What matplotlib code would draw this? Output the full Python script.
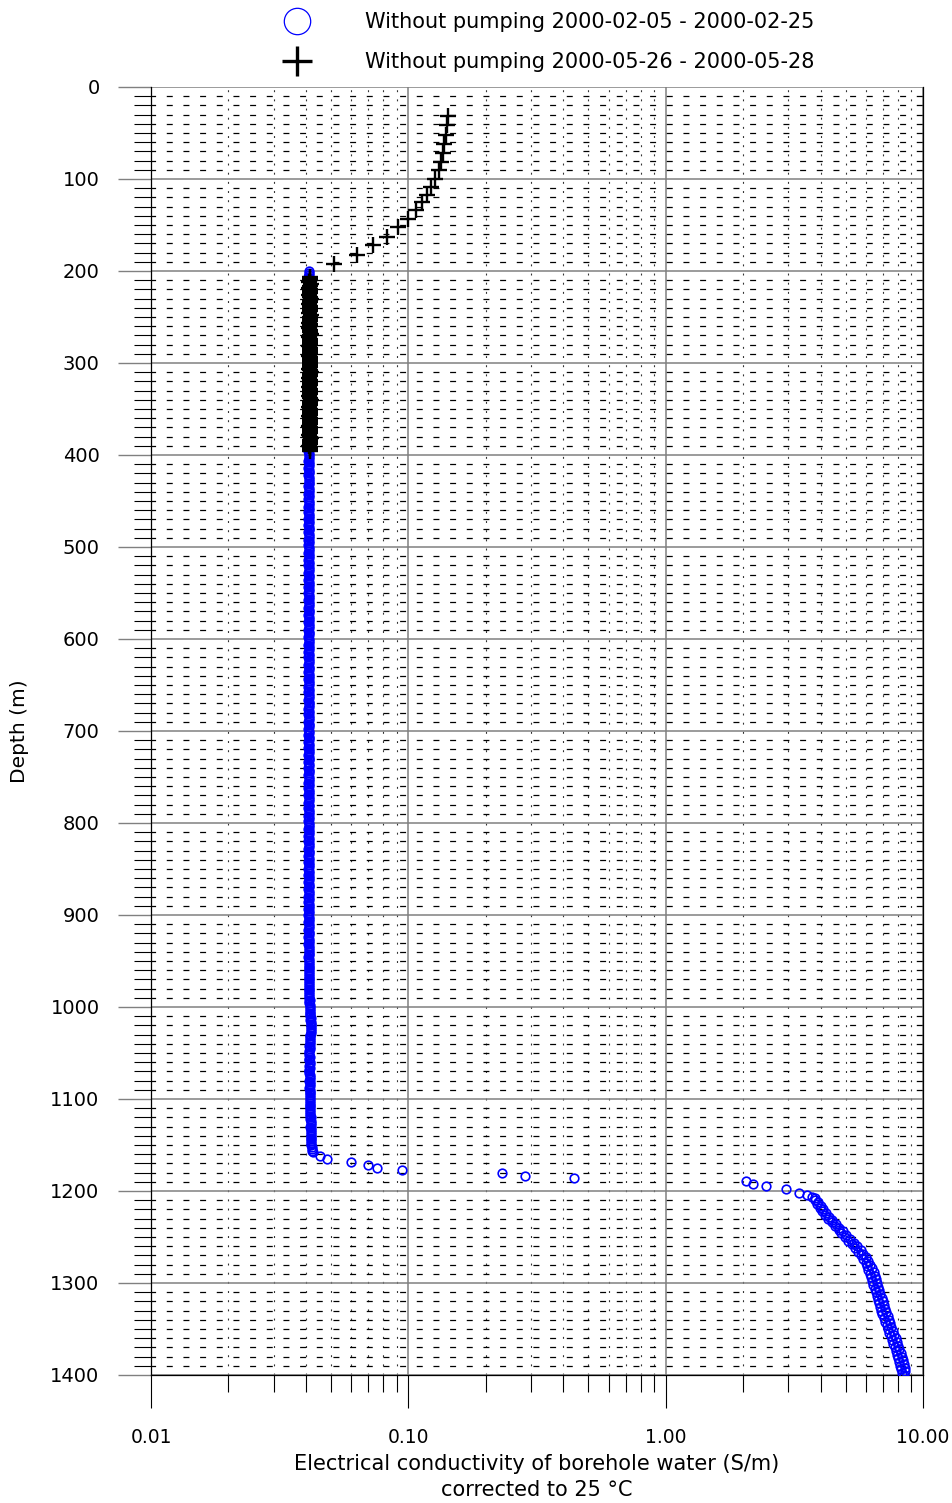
import numpy as np
import matplotlib
matplotlib.use("Agg")
import matplotlib.pyplot as plt
from matplotlib.ticker import LogLocator, MultipleLocator, FixedLocator, FuncFormatter, NullFormatter
from matplotlib.lines import Line2D

plt.rcParams['font.family'] = ['DejaVu Sans']
plt.rcParams['lines.scale_dashes'] = False

# ---- data -------------------------------------------------------------
# 2000-05-26 - 2000-05-28 (crosses), upper part read point by point
cross_top_depth = [32, 41, 52, 62, 72, 81, 90, 100, 109, 117, 125, 134,
                   143, 152, 163, 172, 183, 192]
cross_top_cond = [0.143, 0.141, 0.140, 0.138, 0.136, 0.134, 0.131, 0.127,
                  0.123, 0.118, 0.113, 0.107, 0.100, 0.0915, 0.0824,
                  0.0727, 0.0634, 0.0516]

# crosses, dense part 206-396 m every 2 m (units 1e-4 S/m)
cross_col_depth = np.arange(206, 398, 2)
cross_col_cond = [
    416, 413, 415, 412, 417, 414, 411, 415, 413, 416, 412, 414, 418, 413, 415, 411, 414, 416, 413, 415, 412, 417, 414, 413,
    415, 412, 416, 414, 411, 415, 413, 417, 414, 412, 415, 413, 416, 414, 411, 415, 413, 414, 416, 412, 415, 414, 413, 416,
    413, 415, 412, 414, 417, 413, 415, 411, 414, 416, 413, 415, 412, 414, 416, 413, 415, 412, 414, 417, 413, 415, 414, 412,
    414, 416, 413, 415, 412, 414, 416, 413, 415, 411, 414, 416, 413, 415, 412, 414, 417, 413, 415, 414, 412, 415, 413, 414,
]

# 2000-02-05 - 2000-02-25 (circles), 200-1158 m every 2 m (units 1e-4 S/m)
circ_col_depth = np.arange(200, 1160, 2)
circ_col_cond = [
    412, 410, 411, 409, 412, 413, 410, 411, 408, 412, 411, 410, 413, 411, 409, 410, 412, 411, 410, 412, 409, 411, 413, 410,
    411, 409, 410, 412, 411, 410, 408, 411, 412, 410, 411, 413, 410, 409, 411, 412, 410, 411, 409, 410, 412, 411, 410, 411,
    410, 412, 411, 409, 410, 411, 413, 410, 411, 409, 412, 410, 411, 410, 412, 409, 411, 410, 411, 412, 410, 409, 411, 410,
    412, 411, 410, 409, 411, 410, 412, 411, 410, 408, 411, 412, 410, 411, 409, 411, 410, 412, 411, 410, 409, 411, 410, 412,
    411, 410, 409, 411, 410, 412, 410, 409, 411, 410, 411, 409, 410, 411, 410, 409, 411, 410, 412, 410, 411, 409, 410, 411,
    410, 409, 411, 410, 409, 410, 411, 410, 409, 411, 410, 409, 410, 411, 410, 409, 410, 411, 409, 410, 411, 410, 409, 410,
    411, 410, 409, 410, 411, 409, 410, 411, 410, 409, 410, 411, 410, 409, 411, 410, 409, 410, 411, 410, 409, 410, 411, 410,
    409, 410, 411, 410, 409, 410, 411, 409, 410, 411, 410, 409, 410, 410, 411, 409, 410, 411, 410, 409, 410, 411, 410, 409,
    410, 411, 410, 409, 410, 411, 410, 409, 410, 410, 411, 409, 410, 411, 410, 409, 410, 411, 409, 410, 411, 410, 409, 410,
    411, 410, 409, 410, 411, 410, 409, 410, 411, 410, 409, 411, 410, 409, 410, 411, 410, 409, 410, 411, 410, 410, 409, 411,
    410, 409, 410, 411, 410, 409, 410, 411, 410, 409, 411, 410, 409, 410, 411, 410, 409, 410, 411, 409, 410, 411, 410, 409,
    410, 411, 410, 409, 410, 411, 409, 410, 411, 410, 409, 410, 411, 410, 409, 411, 410, 409, 410, 411, 410, 409, 410, 411,
    410, 409, 411, 410, 409, 410, 411, 410, 409, 410, 411, 409, 410, 411, 410, 409, 410, 411, 410, 409, 411, 410, 409, 410,
    411, 410, 409, 410, 411, 410, 409, 411, 410, 409, 410, 411, 410, 409, 410, 411, 409, 410, 411, 410, 409, 410, 411, 410,
    409, 410, 411, 410, 409, 411, 410, 409, 410, 411, 410, 409, 411, 410, 409, 410, 411, 410, 409, 410, 411, 410, 409, 411,
    410, 411, 409, 410, 411, 410, 409, 410, 411, 410, 412, 410, 411, 409, 410, 411, 410, 412, 411, 410, 411, 412, 410, 411,
    411, 412, 410, 411, 412, 411, 411, 410, 412, 411, 411, 412, 413, 412, 412, 414, 413, 414, 413, 415, 414, 416, 417, 416,
    418, 419, 420, 419, 420, 418, 417, 416, 415, 414, 414, 413, 413, 412, 414, 413, 412, 412, 412, 413, 412, 412, 413, 413,
    412, 413, 412, 412, 412, 413, 414, 413, 412, 413, 414, 413, 412, 414, 415, 414, 413, 414, 415, 414, 415, 416, 415, 414,
    415, 416, 415, 416, 417, 416, 417, 418, 417, 416, 417, 418, 419, 418, 417, 418, 419, 420, 419, 420, 421, 422, 424, 426,
]

# circles, jump between 1160 and 1205 m
circ_jump_depth = [1162, 1165.5, 1168.5, 1171.4, 1174.7, 1177.2, 1180.4, 1183.4,
                   1186.2, 1188.8, 1192.4, 1194.9, 1198.2, 1201.8, 1204.7]
circ_jump_cond = [0.0454, 0.0484, 0.0599, 0.0695, 0.0758, 0.0948, 0.231, 0.284,
                  0.441, 2.05, 2.18, 2.45, 2.94, 3.30, 3.55]

# circles, dense bottom part 1206-1400 m every 2 m
circ_bot_depth = np.arange(1206, 1402, 2)
circ_bot_cond = [
    3.72, 3.82, 3.80, 3.90, 3.88, 4.00, 3.98, 4.10, 4.06, 4.18, 4.16, 4.30, 4.28, 4.42,
    4.44, 4.60, 4.56, 4.72, 4.70, 4.88, 4.82, 5.04, 4.98, 5.20, 5.12, 5.38, 5.28, 5.54,
    5.44, 5.72, 5.58, 5.86, 5.72, 6.00, 5.86, 6.12, 5.98, 6.24, 6.06, 6.34, 6.14, 6.44,
    6.24, 6.52, 6.30, 6.58, 6.34, 6.62, 6.41, 6.69, 6.48, 6.76, 6.54, 6.82, 6.62, 6.90,
    6.68, 6.98, 6.75, 7.05, 6.82, 7.12, 6.89, 7.19, 6.96, 7.28, 7.04, 7.36, 7.13, 7.45,
    7.22, 7.54, 7.31, 7.63, 7.40, 7.72, 7.48, 7.82, 7.57, 7.91, 7.66, 8.00, 7.75, 8.09,
    7.84, 8.18, 7.92, 8.26, 8.00, 8.34, 8.07, 8.41, 8.14, 8.48, 8.20, 8.52, 8.30, 8.45,
]

label_feb = "Without pumping 2000-02-05 - 2000-02-25"
label_may = "Without pumping 2000-05-26 - 2000-05-28"
x_ticks = [0.01, 0.1, 1.0, 10.0]

# ---- assemble series --------------------------------------------------
circ_depth = np.concatenate([circ_col_depth, circ_jump_depth, circ_bot_depth])
circ_cond = np.concatenate([np.array(circ_col_cond) * 1e-4, circ_jump_cond, circ_bot_cond])
cross_depth = np.concatenate([cross_top_depth, cross_col_depth])
cross_cond = np.concatenate([cross_top_cond, np.array(cross_col_cond) * 1e-4])

W, H = 953, 1503
fig = plt.figure(figsize=(W / 100, H / 100), dpi=100)
ax = fig.add_axes([151 / W, 1 - 1375 / H, (923 - 151) / W, (1375 - 87) / H])

ax.plot(circ_cond, circ_depth, ls='none', marker='o', ms=6.2, mfc='none',
        mec='#0000ff', mew=1.2, zorder=3)
ax.plot(cross_cond, cross_depth, ls='none', marker='+', ms=11, mec='black',
        mew=1.7, zorder=4)

ax.set_xscale('log')
ax.set_xlim(0.01, 10)
ax.set_ylim(1400, 0)

ax.xaxis.set_major_locator(FixedLocator(x_ticks))
ax.xaxis.set_major_formatter(FuncFormatter(lambda v, p: "%.2f" % v))
ax.xaxis.set_minor_locator(LogLocator(base=10, subs=range(2, 10)))
ax.xaxis.set_minor_formatter(NullFormatter())
ax.yaxis.set_major_locator(MultipleLocator(100))
ax.yaxis.set_minor_locator(MultipleLocator(10))

# grid: solid gray majors, dashed/dotted minors
ax.grid(which='major', color='#808080', lw=1.1, ls='-')
ax.yaxis.grid(which='minor', color='black', lw=0.9, ls=(1, (4.3, 7.7)))
ax.xaxis.grid(which='minor', color='#333333', lw=0.8, ls=(0, (1.4, 5.2)))

ax.tick_params(axis='x', which='major', length=24, width=0.8, pad=14,
               labelsize=13.5, color='black')
ax.tick_params(axis='x', which='minor', length=12, width=0.8, color='black')
ax.tick_params(axis='y', which='major', length=24, width=1.0, pad=13,
               labelsize=14, color='#808080')
ax.tick_params(axis='y', which='minor', length=12, width=0.8, color='black')

ax.spines['top'].set_visible(False)
for s in ('left', 'right', 'bottom'):
    ax.spines[s].set_color('black')
    ax.spines[s].set_linewidth(0.9)

# axis labels
fig.text(20 / W, 1 - 731 / H, "Depth (m)", rotation=90, ha='center',
         va='center', fontsize=14.5)
fig.text(537 / W, 1 - 1464 / H,
         "Electrical conductivity of borehole water (S/m)",
         ha='center', va='center', fontsize=15)
fig.text(537 / W, 1 - 1490 / H, "corrected to 25 °C", ha='center',
         va='center', fontsize=15)

# legend above the plot
handles = [
    Line2D([], [], ls='none', marker='o', ms=19, mfc='none', mec='#0000ff', mew=0.9),
    Line2D([], [], ls='none', marker='+', ms=21, mec='black', mew=2.4),
]
fig.legend(handles, [label_feb, label_may], loc='upper left',
           bbox_to_anchor=(276.2 / W, 1 - 12.1 / H), frameon=False,
           fontsize=15, handlelength=2.0, handletextpad=2.26,
           labelspacing=0.97, borderpad=0, borderaxespad=0)

fig.savefig("out.png", dpi=100)
